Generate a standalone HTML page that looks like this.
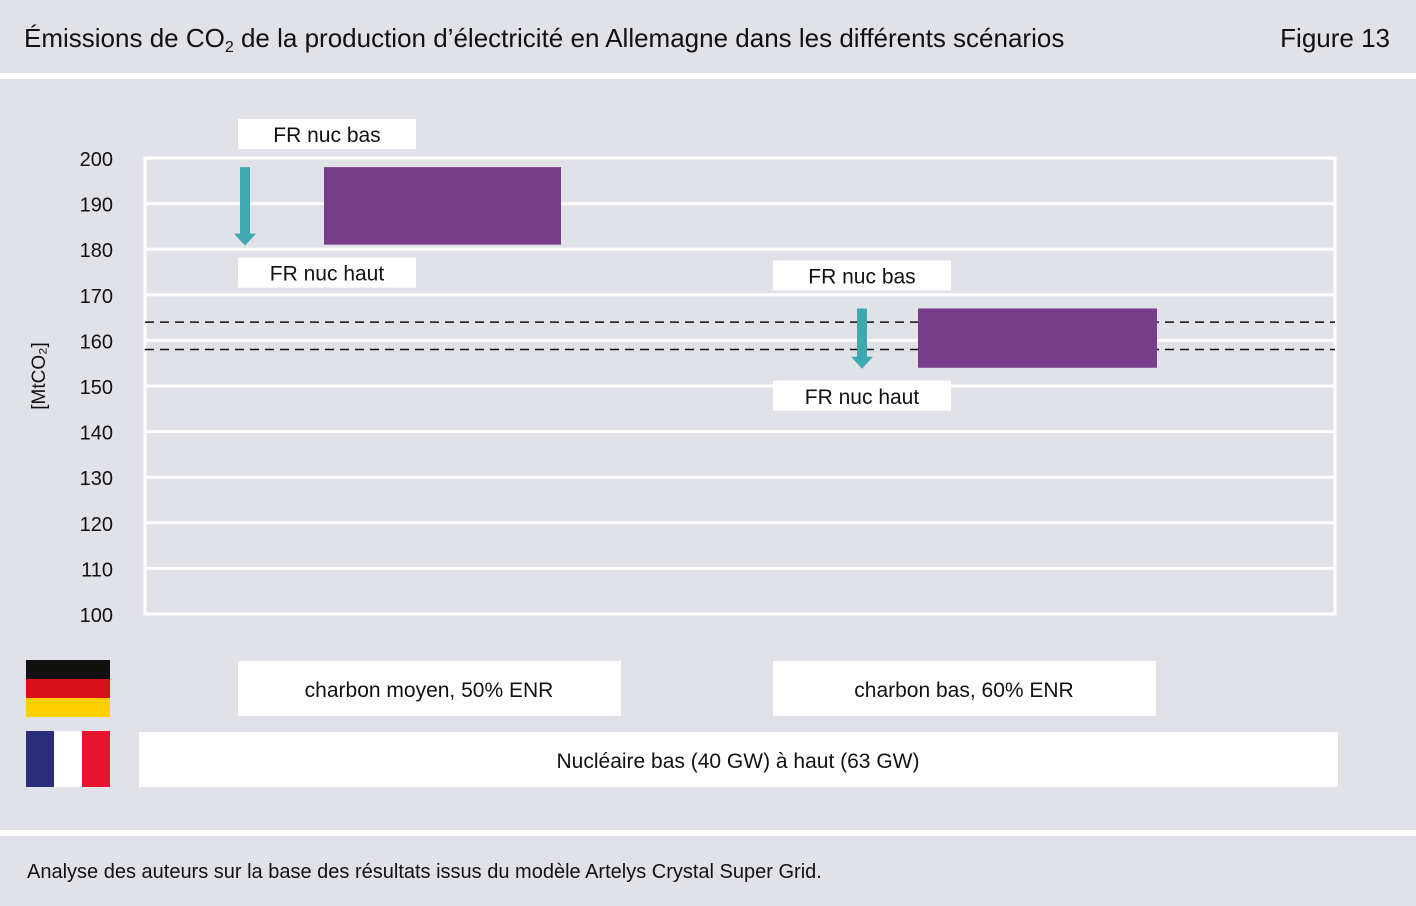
<!DOCTYPE html>
<html><head><meta charset="utf-8"><style>
body{margin:0;width:1416px;height:906px;background:#fff;font-family:"Liberation Sans",sans-serif;overflow:hidden}
</style></head><body>
<svg width="1416" height="906" xmlns="http://www.w3.org/2000/svg" style="display:block;font-family:'Liberation Sans',sans-serif">
<rect x="0" y="0" width="1416" height="73" fill="#e1e2e8"/>
<rect x="0" y="79" width="1416" height="751" fill="#e1e2e8"/>
<rect x="0" y="836" width="1416" height="70" fill="#e1e2e8"/>
<text x="24" y="47" font-size="26" fill="#111">Émissions de CO<tspan font-size="16" dy="5">2</tspan><tspan dy="-5"> de la production d’électricité en Allemagne dans les différents scénarios</tspan></text>
<text x="1390" y="47" font-size="26" fill="#111" text-anchor="end">Figure 13</text>
<text x="27" y="878" font-size="20" fill="#111">Analyse des auteurs sur la base des résultats issus du modèle Artelys Crystal Super Grid.</text>
<g id="grid"></g>
<g id="marks"></g>
<text transform="translate(45,376) rotate(-90)" font-size="19" fill="#111" text-anchor="middle">[MtCO₂]</text>
<g>
<rect x="26" y="660" width="84" height="19" fill="#111110"/><rect x="26" y="679" width="84" height="19" fill="#d81017"/><rect x="26" y="698" width="84" height="19" fill="#ffcf00"/></g>
<g>
<rect x="26" y="731" width="28" height="56" fill="#2a2c7c"/><rect x="54" y="731" width="28" height="56" fill="#fff"/><rect x="82" y="731" width="28" height="56" fill="#e8132f"/></g>
<g><rect x="238" y="661" width="383" height="55" fill="#fff"/><text x="429" y="697" font-size="21" text-anchor="middle" fill="#111">charbon moyen, 50% ENR</text></g>
<g><rect x="773" y="661" width="383" height="55" fill="#fff"/><text x="964" y="697" font-size="21" text-anchor="middle" fill="#111">charbon bas, 60% ENR</text></g>
<g><rect x="139" y="732" width="1199" height="55" fill="#fff"/><text x="738" y="768" font-size="21" text-anchor="middle" fill="#111">Nucléaire bas (40 GW) à haut (63 GW)</text></g>
</svg>
<script>
const ticks=[100,110,120,130,140,150,160,170,180,190,200];
const lows=[181,154];
const highs=[198,167];
const dashed=[164,158];
const xL=145,xR=1335;
function y(v){return 614-(v-100)*4.56;}
const NS="http://www.w3.org/2000/svg";
const grid=document.getElementById('grid'),marks=document.getElementById('marks');
function mk(t,a,p){const e=document.createElementNS(NS,t);for(const k in a)e.setAttribute(k,a[k]);(p||marks).appendChild(e);return e;}
const pb=mk('rect',{x:xL,y:y(200),width:xR-xL,height:y(100)-y(200),fill:'none',stroke:'#fff','stroke-width':3},grid);


ticks.forEach(t=>{
 const l=mk('line',{x1:xL,x2:xR,y1:y(t),y2:y(t),stroke:'#fff','stroke-width':3},grid);
 
 
 const tx=mk('text',{x:113,y:y(t)+8,'font-size':20,'text-anchor':'end',fill:'#111'},grid);
 tx.textContent=t;
 
 
});
dashed.forEach(d=>{
 const l=mk('line',{x1:xL,x2:xR,y1:y(d),y2:y(d),stroke:'#111','stroke-width':1.5,'stroke-dasharray':'9,6'});
 
 
});
const barX=[[324,561],[918,1157]];
const arrowX=[245,862];
const labBox=[[238,416],[773,951]];
lows.forEach((lo,i)=>{
 const hi=highs[i];
 const r=mk('rect',{x:barX[i][0],y:y(hi),width:barX[i][1]-barX[i][0],height:y(lo)-y(hi),fill:'#773c8a'});
 
 
 const ax=arrowX[i],ya=y(hi),yb=y(lo)+1;
 const a=mk('path',{d:`M${ax-5},${ya} H${ax+5} V${yb-12} H${ax+11} L${ax},${yb} L${ax-11},${yb-12} H${ax-5} Z`,fill:'#3fa9b2'});
 
 
 const bx=labBox[i];
 [[y(hi)-48,'FR nuc bas'],[y(lo)+13,'FR nuc haut']].forEach(([ty,txt],j)=>{
  const g=mk('g',{});
  
  
  mk('rect',{x:bx[0],y:ty,width:bx[1]-bx[0],height:30,fill:'#fff'},g);
  const t=mk('text',{x:(bx[0]+bx[1])/2,y:ty+23,'font-size':21,'text-anchor':'middle',fill:'#111'},g);
  t.textContent=txt;
 });
});
</script>
</body></html>
